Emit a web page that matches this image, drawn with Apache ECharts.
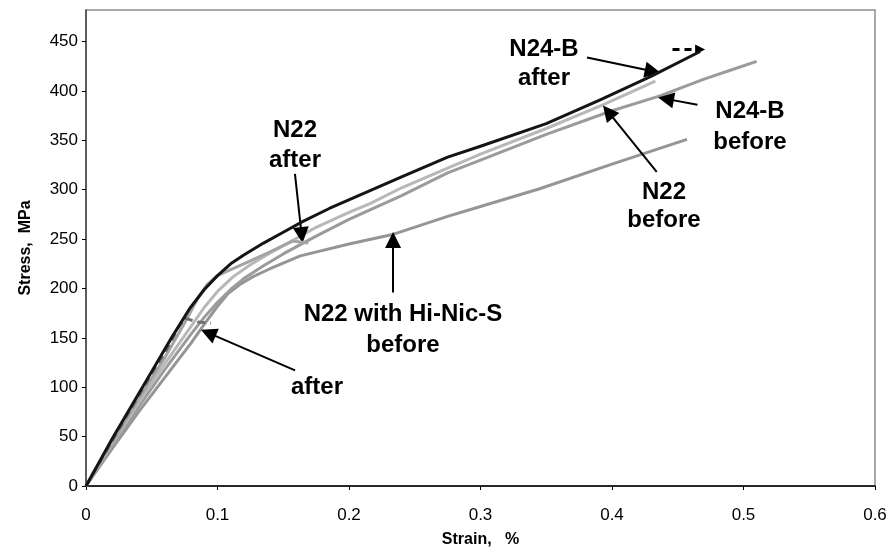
<!DOCTYPE html>
<html>
<head>
<meta charset="utf-8">
<script src="https://cdn.jsdelivr.net/npm/echarts@6/dist/echarts.min.js"></script>
<style>
  html, body { margin: 0; padding: 0; background: #fff; }
  #main { width: 894px; height: 553px; }
</style>
</head>
<body>
<div id="main"></div>
<script>
// strain (%) / stress (MPa) pairs
var n24bAfter = [[0,0],[0.01,24],[0.02,48],[0.035,82],[0.05,116],[0.065,150],[0.079,180],[0.09,199],[0.1,213],[0.11,225],[0.12,234],[0.135,246],[0.15,257],[0.165,268],[0.185,281],[0.216,299],[0.24,313],[0.275,333],[0.3,344],[0.35,367],[0.391,391],[0.43,415],[0.467,440]];
var n24bBefore = [[0,0],[0.02,40],[0.04,80],[0.06,118],[0.08,154],[0.09,171],[0.1,186],[0.11,199],[0.12,210],[0.135,223],[0.15,235],[0.175,253],[0.2,270],[0.24,294],[0.275,317],[0.3,330],[0.35,356],[0.4,380],[0.4365,395],[0.47,412],[0.49,421],[0.51,430]];
var n22Before = [[0,0],[0.02,43],[0.04,84],[0.06,124],[0.08,162],[0.09,181],[0.1,197],[0.112,212],[0.125,224],[0.14,236],[0.155,247],[0.175,262],[0.2,277],[0.216,286],[0.24,302],[0.275,322],[0.3,336],[0.35,362],[0.393,386],[0.433,410]];
var n22After = [[0,0],[0.02,44],[0.04,88],[0.06,130],[0.075,165],[0.085,190],[0.092,204],[0.1,213],[0.11,219],[0.12,225],[0.14,237],[0.157,248],[0.169,246]];
var hiNicBefore = [[0,0],[0.02,38],[0.04,75],[0.06,110],[0.08,145],[0.09,164],[0.1,182],[0.108,195],[0.117,204],[0.127,212],[0.14,220],[0.163,233],[0.2,245],[0.234,255],[0.275,273],[0.3,283],[0.345,301],[0.4,326],[0.457,351]];
var hiNicAfter = [[0,0],[0.02,46],[0.035,80],[0.05,114],[0.06,135],[0.07,160],[0.075,170],[0.08,168],[0.085,166],[0.095,165]];

var xTicks = [0, 0.1, 0.2, 0.3, 0.4, 0.5, 0.6];
var yTicks = [0, 50, 100, 150, 200, 250, 300, 350, 400, 450];

// annotation arrows: [from, to] in data units
var arrows = [
  [[0.381, 434], [0.431, 420]],
  [[0.465, 386], [0.441, 392]],
  [[0.434, 318], [0.397, 379]],
  [[0.1589, 316], [0.164, 254]],
  [[0.2335, 196], [0.2335, 249]],
  [[0.159, 117], [0.093, 155]]
];
var dashArrow = [[0.446, 442], [0.467, 442]];

var chart = echarts.init(document.getElementById('main'));

function curve(name, data, color, width, type, z) {
  return {
    name: name, type: 'line', data: data, showSymbol: false, z: z,
    lineStyle: { color: color, width: width, type: type || 'solid', join: 'round' }
  };
}

var labelFont = 'bold 24px "Liberation Sans", Arial, sans-serif';
function label(text, x, y) {
  return { type: 'text', x: x, y: y, z: 100,
    style: { text: text, font: labelFont, fill: '#000', align: 'center', verticalAlign: 'middle' } };
}

var arrowLines = arrows.map(function (a) {
  return [{ coord: a[0] }, { coord: a[1] }];
});

var blackSeries = curve('N24-B after', n24bAfter, '#151515', 3, 'solid', 10);
blackSeries.markLine = {
  silent: true, animation: false,
  symbol: ['none', 'triangle'], symbolSize: 16,
  label: { show: false },
  lineStyle: { color: '#000', width: 2, type: 'solid' },
  data: arrowLines
};

var dashSeries = curve('dash', [], '#000', 2, 'dashed', 11);
dashSeries.markLine = {
  silent: true, animation: false,
  symbol: ['none', 'triangle'], symbolSize: 10,
  label: { show: false },
  lineStyle: { color: '#000', width: 3, type: [7, 5] },
  data: [[{ coord: dashArrow[0] }, { coord: dashArrow[1] }]]
};

chart.setOption({
  animation: false,
  grid: { left: 86, right: 19, top: 10, bottom: 65, show: true, borderColor: '#8c8c8c', borderWidth: 1.5 },
  xAxis: {
    type: 'value', min: 0, max: 0.6, interval: 0.1,
    name: 'Strain,   %', nameLocation: 'middle', nameGap: 46,
    nameTextStyle: { fontFamily: 'Liberation Sans', fontWeight: 'bold', fontSize: 16, color: '#000' },
    axisLine: { show: true, lineStyle: { color: '#000', width: 1.5 } },
    axisTick: { show: true, inside: false, length: 4, lineStyle: { color: '#000' }, customValues: xTicks },
    axisLabel: { margin: 21, fontFamily: 'Liberation Sans', fontSize: 17, color: '#000', customValues: xTicks,
      formatter: function (v) { return String(Math.round(v * 10) / 10); } },
    splitLine: { show: false }
  },
  yAxis: {
    type: 'value', min: 0, max: 482, interval: 50,
    name: 'Stress,  MPa', nameLocation: 'middle', nameGap: 52,
    nameTextStyle: { fontFamily: 'Liberation Sans', fontWeight: 'bold', fontSize: 16, color: '#000' },
    axisLine: { show: true, lineStyle: { color: '#444', width: 1.5 } },
    axisTick: { show: true, inside: false, length: 4, lineStyle: { color: '#000' }, customValues: yTicks },
    axisLabel: { margin: 8, fontFamily: 'Liberation Sans', fontSize: 17, color: '#000', customValues: yTicks },
    splitLine: { show: false }
  },
  series: [
    curve('N22 with Hi-Nic-S before', hiNicBefore, '#959595', 3, 'solid', 2),
    curve('N24-B before', n24bBefore, '#9b9b9b', 3, 'solid', 3),
    curve('N22 before', n22Before, '#b8b8b8', 3, 'solid', 4),
    curve('N22 after', n22After, '#a4a4a4', 3, 'solid', 5),
    curve('N22 with Hi-Nic-S after', hiNicAfter, '#6e6e6e', 3, [8, 5], 6),
    blackSeries,
    dashSeries
  ],
  graphic: [
    label('N24-B', 544, 49), label('after', 544, 78),
    label('N24-B', 750, 111), label('before', 750, 142),
    label('N22', 664, 192), label('before', 664, 220),
    label('N22', 295, 130), label('after', 295, 160),
    label('N22 with Hi-Nic-S', 403, 314), label('before', 403, 345),
    label('after', 317, 387)
  ]
});
</script>
</body>
</html>
